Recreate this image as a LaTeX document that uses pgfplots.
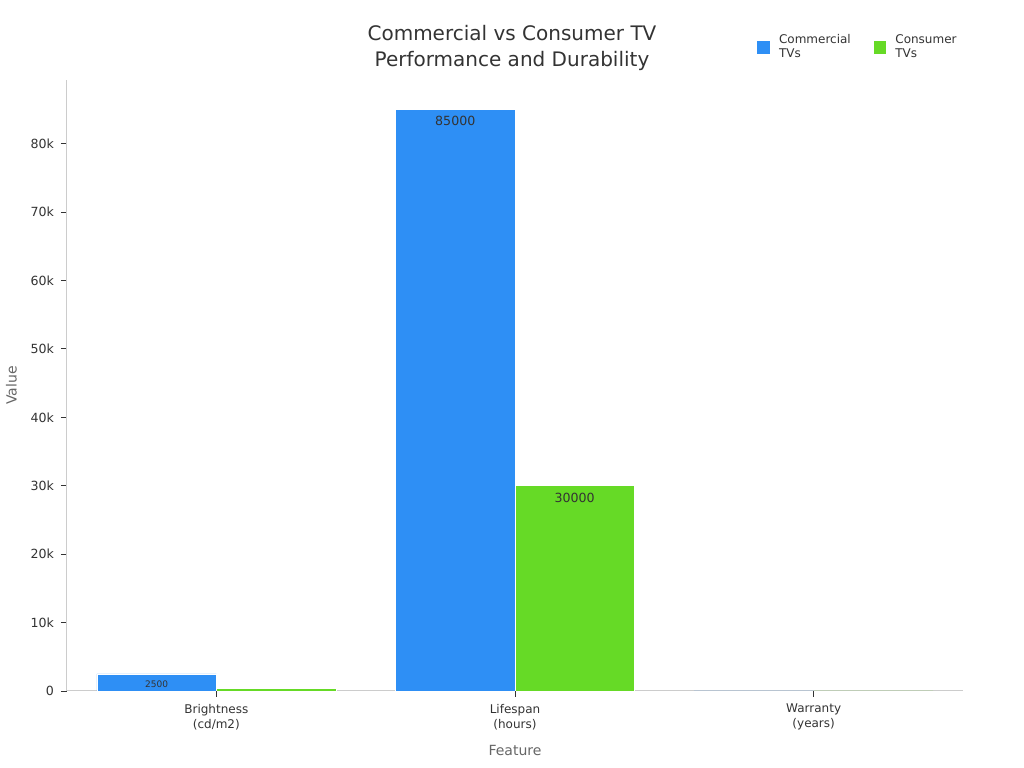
\documentclass[border=0pt]{standalone}
\usepackage{fontspec}
\setmainfont{DejaVu Sans}
\usepackage{pgfplots}
\pgfplotsset{compat=1.18}
\usetikzlibrary{calc}

\definecolor{comblue}{HTML}{2E8FF5}
\definecolor{congreen}{HTML}{66DA26}
\definecolor{axgray}{HTML}{CCCCCC}
\definecolor{txtgray}{HTML}{333333}
\definecolor{lblgray}{HTML}{666666}

\begin{document}
\begin{tikzpicture}
\begin{axis}[
    name=ax,
    scale only axis,
    width=448pt, height=305.5pt,
    ybar, bar width=0.4,
    xmin=-0.5, xmax=2.5,
    ymin=0, ymax=89300,
    axis x line*=bottom, axis y line*=left,
    axis line style={axgray, line width=0.5pt},
    xtick={0,1,2},
    xticklabels={Brightness\\(cd/m2), Lifespan\\(hours), Warranty\\(years)},
    xticklabel style={align=center, font=\fontsize{6}{7.5}\selectfont, text=txtgray},
    ytick={0,10000,20000,30000,40000,50000,60000,70000,80000},
    yticklabels={0,10k,20k,30k,40k,50k,60k,70k,80k},
    yticklabel style={font=\fontsize{6.3}{7.5}\selectfont, text=txtgray},
    scaled y ticks=false,
    tick style={txtgray, line width=0.4pt},
    major tick length=3pt,
    tick align=outside,
    xlabel={Feature}, ylabel={Value},
    xlabel style={font=\fontsize{7}{8}\selectfont, text=lblgray, yshift=-0.5pt},
    ylabel style={font=\fontsize{7}{8}\selectfont, text=lblgray},
    legend columns=2,
    legend style={at={(1,1)}, anchor=south east, yshift=5.5pt, xshift=2pt, draw=none,
        font=\fontsize{6}{7}\selectfont, text=txtgray,
        cells={align=left, anchor=west},
        /tikz/every even column/.append style={column sep=9pt}},
    legend image code/.code={\fill[#1] (0pt,-3.4pt) rectangle (6.8pt,3.4pt); \path (9pt,0pt);},
    nodes near coords,
    point meta=explicit symbolic,
    every node near coord/.append style={anchor=north, font=\fontsize{6.3}{7}\selectfont, text=txtgray, yshift=0pt},
]
\addplot[fill=comblue, draw=white, line width=0.3pt, bar shift=-0.2]
    coordinates {(0,2500) [\fontsize{4.5}{5}\selectfont 2500] (1,85000) [85000] (2,5) []};
\addplot[fill=congreen, draw=white, line width=0.3pt, bar shift=0.2]
    coordinates {(0,400) [] (1,30000) [30000] (2,2) []};
\legend{Commercial\\TVs, Consumer\\TVs}
\end{axis}
\node[font=\fontsize{10}{13}\selectfont, text=txtgray, align=center] at ($(ax.north)+(-1.5pt,16pt)$)
    {Commercial vs Consumer TV\\Performance and Durability};
\pgfresetboundingbox
\path ($(ax.south west)+(-33.5pt,-38.5pt)$) rectangle ($(ax.north east)+(30.5pt,40pt)$);
\end{tikzpicture}
\end{document}
